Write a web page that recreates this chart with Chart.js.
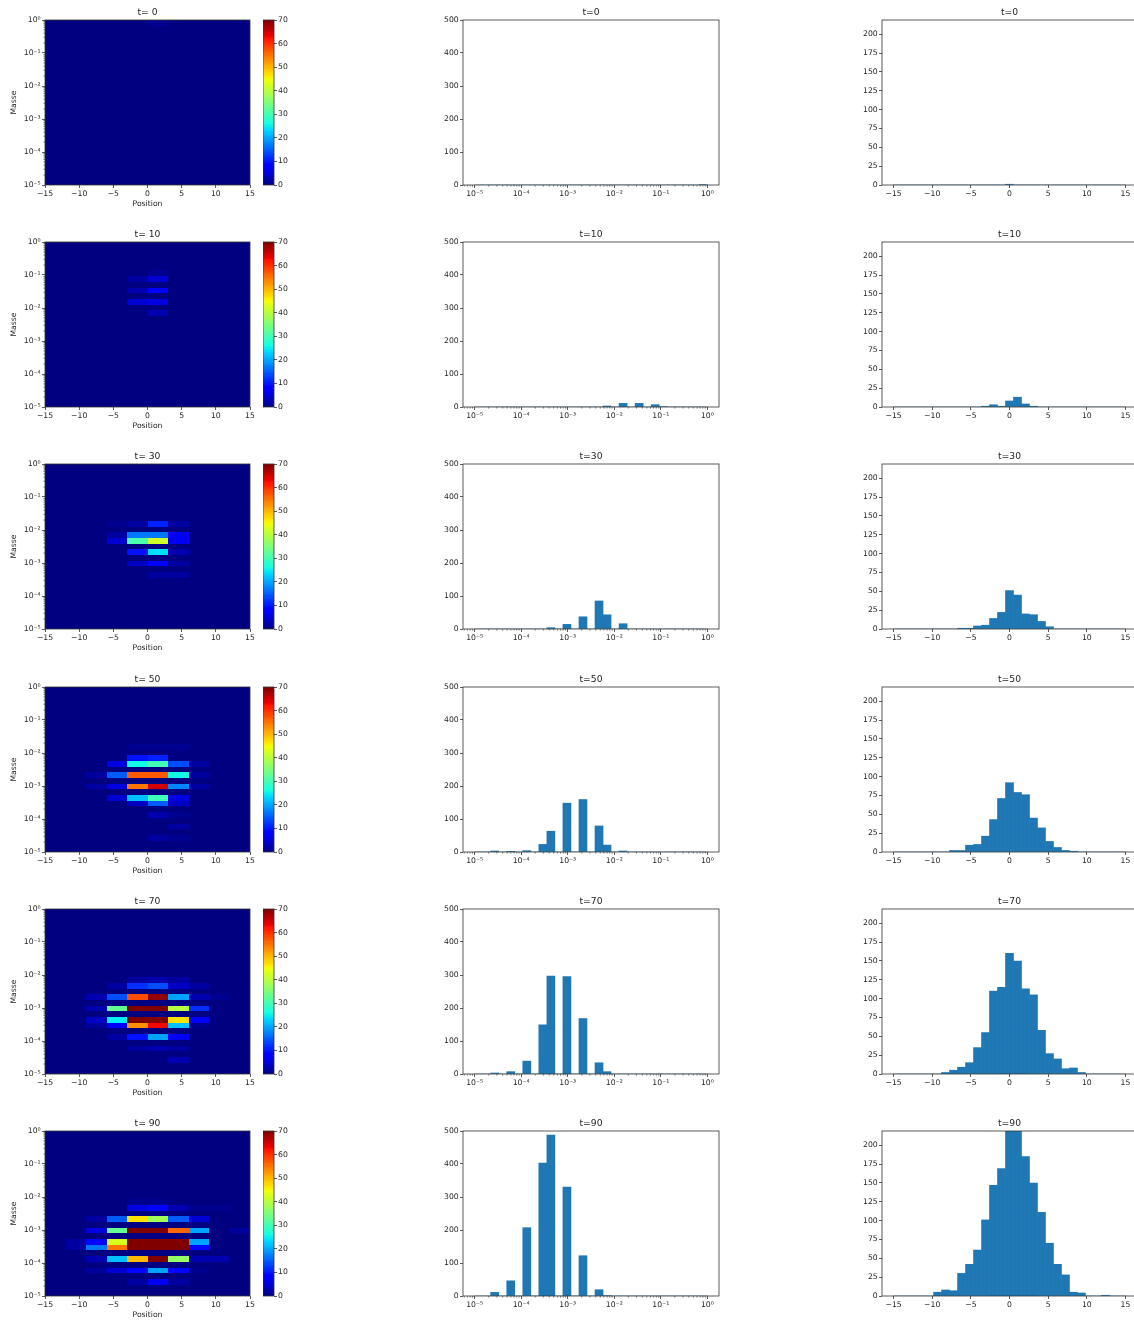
<!DOCTYPE html>
<html>
<head>
<meta charset="utf-8">
<script src="https://cdn.jsdelivr.net/npm/chart.js@4.4.1/dist/chart.umd.min.js"></script>
<style>
html, body { margin: 0; padding: 0; background: #fff; overflow: hidden; }
#page { position: relative; width: 1134px; height: 1323px; overflow: hidden; }
</style>
</head>
<body>
<div id="page"></div>
<script>
const times = [0, 10, 30, 50, 70, 90];
const rowTops = [20, 242, 464, 687, 909, 1131];

const posTicks = [-15, -10, -5, 0, 5, 10, 15];
const massTicks = [1e-5, 1e-4, 1e-3, 1e-2, 1e-1, 1];
const midCountTicks = [0, 100, 200, 300, 400, 500];
const rightCountTicks = [0, 25, 50, 75, 100, 125, 150, 175, 200];
const cbarTicks = [0, 10, 20, 30, 40, 50, 60, 70];
const heatColEdges = [-15, -12, -9, -6, -3, 0, 3, 6, 9, 12, 15];
const cmax = 70;

// mass histograms, 29 log bins between 1e-5 and 1
const massHist0 = [0,0,0,0,0,0,0,0,0,0, 0,0,0,0,0,0,0,0,0,0, 0,0,0,0,0,0,0,0,1];
const massHist10 = [0,0,0,0,0,0,0,0,0,0, 0,0,0,0,0,0,3,0,11,0, 11,0,7,1,0,0,0,0,0];
const massHist30 = [0,0,0,0,0,0,0,0,0,4, 0,14,0,37,0,85,43,0,16,0, 0,0,0,0,0,0,0,0,0];
const massHist50 = [0,0,3,0,2,0,4,0,23,63, 0,148,0,159,0,79,21,0,3,0, 0,0,0,0,0,0,0,0,0];
const massHist70 = [0,0,3,0,7,0,39,0,149,297, 0,295,0,168,0,34,7,0,0,0, 0,0,0,0,0,0,0,0,0];
const massHist90 = [0,0,11,0,46,0,207,0,403,488, 0,330,0,122,0,19,1,0,0,0, 0,0,0,0,0,0,0,0,0];

// position histograms, 29 bins between -15 and 15
const posHist0 = [0,0,0,0,0,0,0,0,0,0, 0,0,0,0,1,0,0,0,0,0, 0,0,0,0,0,0,0,0,0];
const posHist10 = [0,0,0,0,0,0,0,0,0,0, 0,1,3,1,8,13,4,1,0,0, 0,0,0,0,0,0,0,0,0];
const posHist30 = [0,0,0,0,0,0,0,0,1,1, 4,5,14,22,51,45,20,19,10,3, 0,0,0,0,0,0,0,0,0];
const posHist50 = [0,0,0,0,0,0,0,2,2,9, 10,21,43,71,92,79,76,45,32,14, 6,2,1,0,0,0,0,0,0];
const posHist70 = [0,0,0,0,0,0,2,5,9,15, 35,55,110,115,160,150,113,105,58,27, 20,7,8,2,0,0,0,0,0];
const posHist90 = [0,0,0,0,0,5,8,7,30,42, 61,101,147,169,232,228,185,150,111,70, 42,28,5,4,0,0,1,0,0];

// heatmaps: mass bin -> counts in the 10 position columns
const heat0 = { 28: [0,0,0,0,0,1,0,0,0,0] };
const heat10 = {
  16: [0,0,0,0,0,3,0,0,0,0], 18: [0,0,0,0,5,6,0,0,0,0], 20: [0,0,0,0,3,8,0,0,0,0],
  22: [0,0,0,0,2,5,0,0,0,0], 23: [0,0,0,0,0,1,0,0,0,0]
};
const heat30 = {
  9: [0,0,0,0,0,2,2,0,0,0], 11: [0,0,0,0,4,8,2,0,0,0], 13: [0,0,0,0,10,24,3,0,0,0],
  15: [0,0,0,5,31,42,7,0,0,0], 16: [0,0,0,2,17,17,7,0,0,0], 18: [0,0,0,1,2,11,2,0,0,0]
};
const heat50 = {
  2: [0,0,0,0,0,2,1,0,0,0], 4: [0,0,0,0,0,0,2,0,0,0], 6: [0,0,0,0,0,3,1,0,0,0],
  8: [0,0,0,0,4,15,4,0,0,0], 9: [0,0,0,5,22,30,6,0,0,0], 11: [0,0,2,6,55,65,18,2,0,0],
  13: [0,0,2,15,57,57,26,2,0,0], 15: [0,0,0,6,26,30,14,2,0,0], 16: [0,0,0,0,10,11,0,0,0,0],
  18: [0,0,0,0,1,1,1,0,0,0]
};
const heat70 = {
  2: [0,0,0,0,0,0,3,0,0,0], 4: [0,0,0,0,2,3,2,0,0,0], 6: [0,0,0,2,10,20,7,0,0,0],
  8: [0,0,2,8,53,63,22,1,0,0], 9: [0,0,4,25,100,114,47,7,0,0], 11: [0,0,3,33,100,107,40,12,0,0],
  13: [0,0,3,14,58,69,20,3,1,0], 15: [0,0,0,2,12,14,4,2,0,0], 16: [0,0,0,0,2,3,2,0,0,0]
};
const heat90 = {
  2: [0,0,0,0,2,7,2,0,0,0], 4: [0,0,2,5,9,20,9,1,0,0], 6: [0,0,3,22,50,89,37,3,3,0],
  8: [0,2,17,55,100,115,105,9,0,0], 9: [0,2,9,43,130,150,134,20,0,0], 11: [0,0,6,33,100,113,56,20,0,2],
  13: [0,0,2,15,47,38,15,5,0,0], 15: [0,0,0,0,6,8,3,1,1,0], 16: [0,0,0,0,1,1,0,0,0,0]
};

const massHists = [massHist0, massHist10, massHist30, massHist50, massHist70, massHist90];
const posHists = [posHist0, posHist10, posHist30, posHist50, posHist70, posHist90];
const heatmaps = [heat0, heat10, heat30, heat50, heat70, heat90];

const massEdge = k => Math.pow(10, -5 + 5 * k / 29);
const posCenter = k => -15 + 30 * (k + 0.5) / 29;

const TICK_FONT = 7.7;
const TITLE_FONT = 9.2;

Chart.defaults.font.family = "'DejaVu Sans', sans-serif";
Chart.defaults.font.size = TICK_FONT;
Chart.defaults.color = '#262626';
Chart.defaults.animation = false;
Chart.defaults.plugins.legend.display = false;
Chart.defaults.plugins.tooltip.enabled = false;

const page = document.getElementById('page');
function addCanvas(left, top, w, h) {
  const c = document.createElement('canvas');
  c.width = w;
  c.height = h;
  c.style.cssText = `position:absolute;left:${left}px;top:${top}px;width:${w}px;height:${h}px`;
  page.appendChild(c);
  return c;
}

function jet(t) {
  t = Math.max(0, Math.min(1, t));
  const seg = pts => {
    for (let i = 1; i < pts.length; i++) {
      if (t <= pts[i][0]) {
        const [x0, y0] = pts[i - 1], [x1, y1] = pts[i];
        return y0 + (y1 - y0) * (t - x0) / (x1 - x0);
      }
    }
    return pts[pts.length - 1][1];
  };
  const r = seg([[0, 0], [0.35, 0], [0.66, 1], [0.89, 1], [1, 0.5]]);
  const g = seg([[0, 0], [0.125, 0], [0.375, 1], [0.64, 1], [0.91, 0], [1, 0]]);
  const b = seg([[0, 0.5], [0.11, 1], [0.34, 1], [0.65, 0], [1, 0]]);
  return `rgb(${Math.round(r * 255)},${Math.round(g * 255)},${Math.round(b * 255)})`;
}

const SUP = { '-': '\u207B', '0': '\u2070', '1': '\u00B9', '2': '\u00B2', '3': '\u00B3', '4': '\u2074', '5': '\u2075' };
const fmtLog = v => '10' + String(Math.round(Math.log10(v))).split('').map(ch => SUP[ch]).join('');
const fmtNum = v => v < 0 ? '\u2212' + Math.abs(v) : String(v);
const fixTicks = list => s => { s.ticks = list.map(v => ({ value: v })); };

const gridOpts = { drawOnChartArea: false, drawTicks: true, tickLength: 3, color: '#333', lineWidth: 0.8, offset: false };
const titleOpts = text => ({
  display: true, text, fullSize: false, color: '#262626',
  font: { size: TITLE_FONT, weight: 'normal', lineHeight: 1 },
  padding: { top: 0, bottom: 2.8 }
});

const frame = {
  id: 'frame',
  afterDatasetsDraw(chart) {
    const { ctx, chartArea: a } = chart;
    ctx.save();
    ctx.strokeStyle = '#333';
    ctx.lineWidth = 0.8;
    ctx.strokeRect(a.left, a.top, a.right - a.left, a.bottom - a.top);
    ctx.restore();
  }
};

function minorTicks(axisId) {
  return {
    id: 'minor',
    afterDraw(chart) {
      const s = chart.scales[axisId], ctx = chart.ctx, a = chart.chartArea;
      ctx.save();
      ctx.strokeStyle = '#333';
      ctx.lineWidth = 0.6;
      for (let d = -6; d <= 0; d++) {
        for (let m = 2; m <= 9; m++) {
          const v = m * Math.pow(10, d);
          if (v < s.min || v > s.max) continue;
          const p = s.getPixelForValue(v);
          ctx.beginPath();
          if (s.isHorizontal()) { ctx.moveTo(p, a.bottom); ctx.lineTo(p, a.bottom + 1.6); }
          else { ctx.moveTo(a.left, p); ctx.lineTo(a.left - 1.6, p); }
          ctx.stroke();
        }
      }
      ctx.restore();
    }
  };
}

function heatmapChart(i) {
  const T = rowTops[i];
  const grid = heatmaps[i];
  const cells = {
    id: 'cells',
    beforeDatasetsDraw(chart) {
      const { ctx } = chart;
      const xs = chart.scales.x, ys = chart.scales.y;
      ctx.save();
      for (let k = 0; k < 29; k++) {
        const y0 = Math.round(ys.getPixelForValue(massEdge(k + 1)));
        const y1 = Math.round(ys.getPixelForValue(massEdge(k)));
        for (let j = 0; j < 10; j++) {
          const v = grid[k] ? grid[k][j] : 0;
          const x0 = Math.round(xs.getPixelForValue(heatColEdges[j]));
          const x1 = Math.round(xs.getPixelForValue(heatColEdges[j + 1]));
          ctx.fillStyle = jet(v / cmax);
          ctx.fillRect(x0, y0, x1 - x0, y1 - y0);
        }
      }
      ctx.restore();
    }
  };
  new Chart(addCanvas(0, T - 20, 258, 215), {
    type: 'scatter',
    data: { datasets: [] },
    options: {
      responsive: false,
      layout: { padding: { top: 8, right: 8, left: 0, bottom: 0 } },
      plugins: { title: titleOpts('t= ' + times[i]) },
      scales: {
        x: {
          type: 'linear', min: -15, max: 15,
          afterBuildTicks: fixTicks(posTicks),
          afterFit: s => { s.height = 30; },
          ticks: { callback: fmtNum, padding: 1.5, maxRotation: 0, autoSkip: false },
          grid: gridOpts, border: { display: false },
          title: { display: true, text: 'Position', font: { size: TICK_FONT }, padding: { top: 0, bottom: 6.4 } }
        },
        y: {
          type: 'logarithmic', min: 1e-5, max: 1,
          afterBuildTicks: fixTicks(massTicks),
          afterFit: s => { s.width = 45; },
          ticks: { callback: fmtLog, padding: 1.3, autoSkip: false },
          grid: gridOpts, border: { display: false },
          title: { display: true, text: 'Masse', font: { size: TICK_FONT }, padding: { top: 9, bottom: 4 } }
        }
      }
    },
    plugins: [cells, frame, minorTicks('y')]
  });

  const bar = {
    id: 'cbar',
    beforeDatasetsDraw(chart) {
      const { ctx, chartArea: a } = chart;
      const ys = chart.scales.y;
      ctx.save();
      for (let v = 0; v < cmax; v += 0.5) {
        const y0 = Math.floor(ys.getPixelForValue(v + 0.5));
        const y1 = Math.ceil(ys.getPixelForValue(v));
        ctx.fillStyle = jet((v + 0.25) / cmax);
        ctx.fillRect(a.left, y0, a.right - a.left, y1 - y0);
      }
      ctx.restore();
    }
  };
  new Chart(addCanvas(263, T - 20, 40, 215), {
    type: 'scatter',
    data: { datasets: [] },
    options: {
      responsive: false,
      layout: { padding: { top: 20, right: 0, left: 0, bottom: 30 } },
      scales: {
        x: { display: false, min: 0, max: 1 },
        y: {
          type: 'linear', position: 'right', min: 0, max: cmax,
          afterBuildTicks: fixTicks(cbarTicks),
          afterFit: s => { s.width = 29; },
          ticks: { padding: 1, autoSkip: false },
          grid: gridOpts, border: { display: false }
        }
      }
    },
    plugins: [bar, frame]
  });
}

function massChart(i) {
  const T = rowTops[i];
  new Chart(addCanvas(420, T - 20, 310, 215), {
    type: 'bar',
    data: {
      datasets: [{
        data: massHists[i].map((c, k) => ({ x: Math.sqrt(massEdge(k) * massEdge(k + 1)), y: c })),
        backgroundColor: '#1f77b4',
        borderWidth: 0,
        barPercentage: 1,
        categoryPercentage: 1,
        clip: 0
      }]
    },
    options: {
      responsive: false,
      layout: { padding: { top: 8, right: 11, left: 0, bottom: 0 } },
      plugins: { title: titleOpts('t=' + times[i]) },
      scales: {
        x: {
          type: 'logarithmic', min: Math.pow(10, -5.25), max: Math.pow(10, 0.25), offset: false,
          afterBuildTicks: fixTicks(massTicks),
          afterFit: s => { s.height = 30; },
          ticks: { callback: fmtLog, padding: 1.5, maxRotation: 0, autoSkip: false },
          grid: gridOpts, border: { display: false }
        },
        y: {
          type: 'linear', min: 0, max: 500,
          afterBuildTicks: fixTicks(midCountTicks),
          afterFit: s => { s.width = 43; },
          ticks: { padding: 1.3, autoSkip: false },
          grid: gridOpts, border: { display: false }
        }
      }
    },
    plugins: [frame, minorTicks('x')]
  });
}

function posChart(i) {
  const T = rowTops[i];
  new Chart(addCanvas(840, T - 20, 300, 215), {
    type: 'bar',
    data: {
      datasets: [{
        data: posHists[i].map((c, k) => ({ x: posCenter(k), y: c })),
        backgroundColor: '#1f77b4',
        borderWidth: 0,
        barPercentage: 1,
        categoryPercentage: 1,
        clip: 0
      }]
    },
    options: {
      responsive: false,
      layout: { padding: { top: 8, right: 3, left: 0, bottom: 0 } },
      plugins: { title: titleOpts('t=' + times[i]) },
      scales: {
        x: {
          type: 'linear', min: -16.5, max: 16.5, offset: false,
          afterBuildTicks: fixTicks(posTicks),
          afterFit: s => { s.height = 30; },
          ticks: { callback: fmtNum, padding: 1.5, maxRotation: 0, autoSkip: false },
          grid: gridOpts, border: { display: false }
        },
        y: {
          type: 'linear', min: 0, max: 219,
          afterBuildTicks: fixTicks(rightCountTicks),
          afterFit: s => { s.width = 42; },
          ticks: { padding: 1.3, autoSkip: false },
          grid: gridOpts, border: { display: false }
        }
      }
    },
    plugins: [frame]
  });
}

for (let i = 0; i < times.length; i++) {
  heatmapChart(i);
  massChart(i);
  posChart(i);
}
</script>
</body>
</html>
